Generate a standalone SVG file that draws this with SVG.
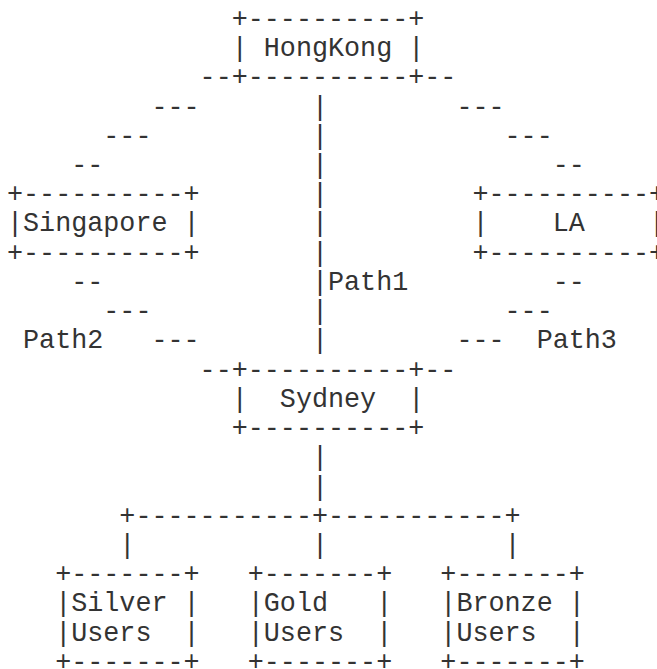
<svg xmlns="http://www.w3.org/2000/svg" width="657" height="669" viewBox="0 0 657 669" xml:space="preserve">
  <style>
    text { font-family: "Liberation Mono", "Courier New", monospace; font-size: 26.75px; fill: #333333; white-space: pre; }
  </style>
  <rect width="657" height="669" fill="#ffffff"/>

  <!-- grid: column c at x = 7 + c*16.05, row r baseline at y = 26.8 + r*29.23 -->

  <g id="connectors">
    <!-- HongKong side rails -->
    <text x="199.6" y="85.3">--</text>
    <text x="424.3" y="85.3">--</text>
    <!-- HongKong to Singapore -->
    <text x="151.45" y="114.5">---</text>
    <text x="103.3" y="143.7">---</text>
    <text x="71.2" y="173.0">--</text>
    <!-- HongKong to LA -->
    <text x="456.4" y="114.5">---</text>
    <text x="504.55" y="143.7">---</text>
    <text x="552.7" y="173.0">--</text>
    <!-- HongKong to Sydney (Path1) -->
    <text x="311.95" y="114.5">|</text>
    <text x="311.95" y="143.7">|</text>
    <text x="311.95" y="173.0">|</text>
    <text x="311.95" y="202.2">|</text>
    <text x="311.95" y="231.4">|</text>
    <text x="311.95" y="260.6">|</text>
    <text x="311.95" y="289.9">|Path1</text>
    <text x="311.95" y="319.1">|</text>
    <text x="311.95" y="348.3">|</text>
    <!-- Singapore to Sydney (Path2) -->
    <text x="71.2" y="289.9">--</text>
    <text x="103.3" y="319.1">---</text>
    <text x="23.05" y="348.3">Path2   ---</text>
    <!-- LA to Sydney (Path3) -->
    <text x="552.7" y="289.9">--</text>
    <text x="504.55" y="319.1">---</text>
    <text x="456.4" y="348.3">---  Path3</text>
    <!-- Sydney side rails -->
    <text x="199.6" y="377.6">--</text>
    <text x="424.3" y="377.6">--</text>
    <!-- Sydney to user tiers -->
    <text x="311.95" y="465.3">|</text>
    <text x="311.95" y="494.5">|</text>
    <text x="119.35" y="523.7">+-----------+-----------+</text>
    <text x="119.35" y="553.0">|</text>
    <text x="311.95" y="553.0">|</text>
    <text x="504.55" y="553.0">|</text>
  </g>

  <g id="hongkong">
    <text x="231.7" y="26.8">+----------+</text>
    <text x="231.7" y="56.0">| HongKong |</text>
    <text x="231.7" y="85.3">+----------+</text>
  </g>

  <g id="singapore">
    <text x="7" y="202.2">+----------+</text>
    <text x="7" y="231.4">|Singapore |</text>
    <text x="7" y="260.6">+----------+</text>
  </g>

  <g id="la">
    <text x="472.45" y="202.2">+----------+</text>
    <text x="472.45" y="231.4">|    LA    |</text>
    <text x="472.45" y="260.6">+----------+</text>
  </g>

  <g id="sydney">
    <text x="231.7" y="377.6">+----------+</text>
    <text x="231.7" y="406.8">|  Sydney  |</text>
    <text x="231.7" y="436.0">+----------+</text>
  </g>

  <g id="silver-users">
    <text x="55.15" y="582.2">+-------+</text>
    <text x="55.15" y="611.4">|Silver |</text>
    <text x="55.15" y="640.6">|Users  |</text>
    <text x="55.15" y="669.9">+-------+</text>
  </g>

  <g id="gold-users">
    <text x="247.75" y="582.2">+-------+</text>
    <text x="247.75" y="611.4">|Gold   |</text>
    <text x="247.75" y="640.6">|Users  |</text>
    <text x="247.75" y="669.9">+-------+</text>
  </g>

  <g id="bronze-users">
    <text x="440.35" y="582.2">+-------+</text>
    <text x="440.35" y="611.4">|Bronze |</text>
    <text x="440.35" y="640.6">|Users  |</text>
    <text x="440.35" y="669.9">+-------+</text>
  </g>
</svg>
